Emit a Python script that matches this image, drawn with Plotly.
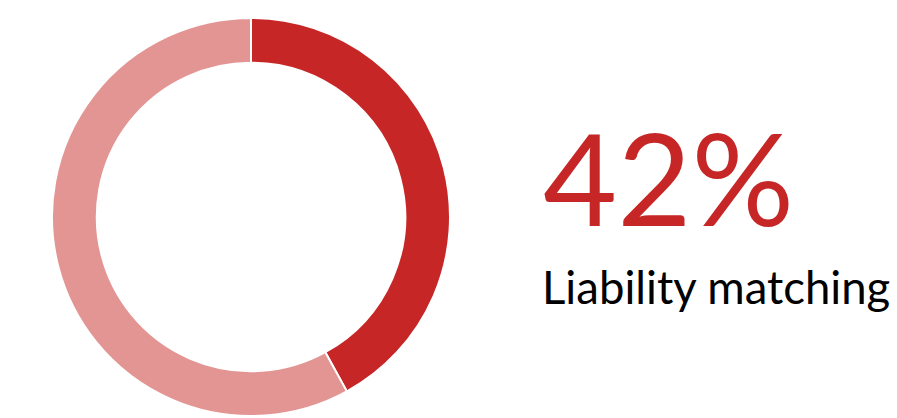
import plotly.graph_objects as go

labels = ["Liability matching", "Other"]
values = [42, 58]
colors = ["#C62726", "#E39594"]
headline = "42%"
caption = "Liability matching"

W, H = 897, 418

fig = go.Figure(
    go.Pie(
        labels=labels,
        values=values,
        hole=0.775,
        sort=False,
        direction="clockwise",
        rotation=0,
        marker=dict(colors=colors, line=dict(color="white", width=2)),
        textinfo="none",
        hoverinfo="label+percent",
        domain=dict(x=[51 / W, 451 / W], y=[2 / H, 400 / H]),
        showlegend=False,
    )
)

fig.add_annotation(
    text=headline, x=541 / W, y=1 - 176 / H, xref="paper", yref="paper",
    xanchor="left", yanchor="middle", showarrow=False,
    font=dict(family="Lato", size=128, color="#C62726"),
)
fig.add_annotation(
    text=caption, x=540 / W, y=1 - 286 / H, xref="paper", yref="paper",
    xanchor="left", yanchor="middle", showarrow=False,
    font=dict(family="Lato", size=45.5, color="#000000"),
)

fig.update_layout(
    width=W, height=H,
    margin=dict(l=0, r=0, t=0, b=0),
    paper_bgcolor="white", plot_bgcolor="white",
)

fig.write_html("out.html")
